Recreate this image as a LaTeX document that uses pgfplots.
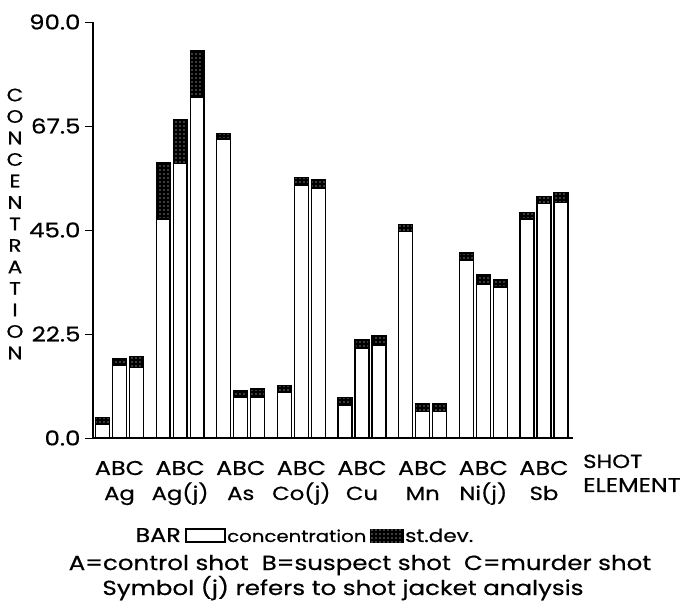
\documentclass[border=0pt]{standalone}
\usepackage{pgfplots}
\pgfplotsset{compat=1.18}
\usepackage{pgfplotstable}
\usepackage{fontspec}
\setmainfont{Poppins}[FakeStretch=1.2, FakeBold=0.6]
\usetikzlibrary{patterns.meta}

\pgfplotstableread{
x conc sd
0 3.0 1.4
1 15.8 1.4
2 15.3 2.3
3.57 47.4 12.2
4.57 59.4 9.4
5.57 73.6 10.2
7.14 64.7 1.2
8.14 8.9 1.4
9.14 8.8 1.8
10.71 9.9 1.5
11.71 54.6 1.7
12.71 54.0 2.0
14.28 7.1 1.6
15.28 19.4 1.8
16.28 20.1 2.1
17.85 44.6 1.6
18.85 5.7 1.8
19.85 5.7 1.8
21.42 38.5 1.5
22.42 33.3 2.0
23.42 32.7 1.5
24.99 47.4 1.4
25.99 50.8 1.4
26.99 51.0 2.1
}\datatable

\tikzset{sdfill/.style={fill=black, postaction={pattern={Dots[distance=4bp, radius=0.55bp]}, pattern color=white}}}
\newcommand{\fs}{\fontsize{19}{20}\selectfont}
\newcommand{\fl}{\fontsize{20.5}{21}\selectfont}

\begin{document}
\begin{tikzpicture}[x=1bp,y=1bp]
\useasboundingbox (-93,-164) rectangle (590,438);
\begin{axis}[
  at={(0,0)}, anchor=south west,
  scale only axis, width=480bp, height=416bp,
  xmin=-0.56, xmax=27.7, ymin=0, ymax=90,
  axis x line=bottom, axis y line=left,
  axis line style={-, line width=1.2pt},
  ytick={0,22.5,45,67.5,90},
  yticklabels={0.0,22.5,45.0,67.5,90.0},
  ytick style={line width=1pt, black},
  tick align=outside, major tick length=8bp,
  xtick=\empty,
  yticklabel style={xshift=-1bp},
  tick label style={font=\fontsize{20.5}{21}\selectfont},
  ybar stacked, bar width=0.82,
  clip=false,
]
\addplot[draw=black, line width=1.3pt, fill=white] table[x=x, y=conc] {\datatable};
\addplot[draw=black, line width=1.3pt, sdfill] table[x=x, y=sd] {\datatable};

\pgfplotsinvokeforeach{0,3.57,7.14,10.71,14.28,17.85,21.42,24.99}{
  \node[anchor=base, inner sep=0pt, font=\fontsize{20}{21}\selectfont] at (axis cs:#1+1,0) [yshift=-37bp] {ABC};
}
\node[anchor=base, inner sep=0pt, font=\fs] at (axis cs:1,0) [yshift=-62bp] {Ag};
\node[anchor=base, inner sep=0pt, font=\fs] at (axis cs:4.57,0) [yshift=-62bp] {Ag(j)};
\node[anchor=base, inner sep=0pt, font=\fs] at (axis cs:8.14,0) [yshift=-62bp] {As};
\node[anchor=base, inner sep=0pt, font=\fs] at (axis cs:11.71,0) [yshift=-62bp] {Co(j)};
\node[anchor=base, inner sep=0pt, font=\fs] at (axis cs:15.28,0) [yshift=-62bp] {Cu};
\node[anchor=base, inner sep=0pt, font=\fs] at (axis cs:18.85,0) [yshift=-62bp] {Mn};
\node[anchor=base, inner sep=0pt, font=\fs] at (axis cs:22.42,0) [yshift=-62bp] {Ni(j)};
\node[anchor=base, inner sep=0pt, font=\fs] at (axis cs:25.99,0) [yshift=-62bp] {Sb};
\end{axis}

\node[anchor=base west, inner sep=0pt, font=\fontsize{19}{20}\selectfont] at (490,-30) {SHOT};
\node[anchor=base west, inner sep=0pt, font=\fontsize{20}{21}\selectfont] at (490,-54) {ELEMENT};

\foreach \c [count=\i] in {C,O,N,C,E,N,T,R,A,T,I,O,N}
  \node[font=\fontsize{18}{19}\selectfont, inner sep=0pt] at (-78, {343-(\i-1)*21.5}) {\c};

% legend
\node[anchor=base east, inner sep=0pt, font=\fontsize{20}{21}\selectfont] at (88,-104) {BAR};
\draw[line width=1.2pt, fill=white] (93,-104) rectangle (132,-91);
\node[anchor=base west, inner sep=0pt, font=\fontsize{16.5}{18}\selectfont] at (134,-104) {concentration};
\draw[line width=1pt, sdfill] (277,-104) rectangle (310,-91);
\node[anchor=base west, inner sep=0pt, font=\fontsize{18}{19}\selectfont] at (312,-104) {st.dev.};

\node[anchor=base, inner sep=0pt, font=\fl] at (267,-132) {A=control shot\ \ B=suspect shot\ \ C=murder shot};
\node[anchor=base, inner sep=0pt, font=\fl] at (250,-157) {Symbol (j) refers to shot jacket analysis};
\end{tikzpicture}
\end{document}
